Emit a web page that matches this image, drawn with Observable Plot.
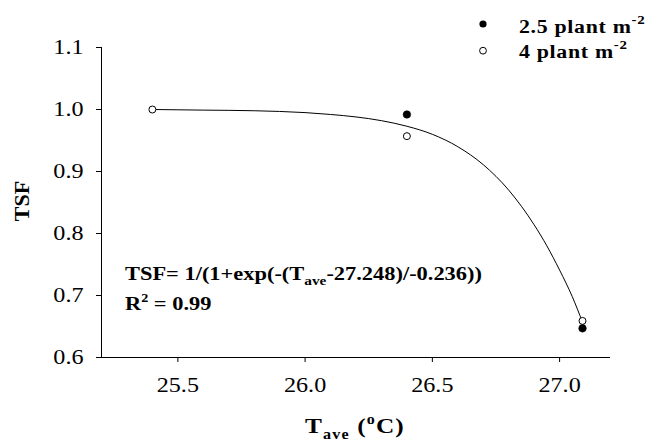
<!DOCTYPE html>
<html><head><meta charset="utf-8">
<script src="https://cdn.jsdelivr.net/npm/d3@7"></script>
<script src="https://cdn.jsdelivr.net/npm/@observablehq/plot@0.6"></script>
<style>html,body{margin:0;padding:0;background:#fff;} svg{display:block}</style>
</head><body><div id="chart"></div>
<script>
// ---- data ----
const xTicks = [25.5, 26.0, 26.5, 27.0];
const yTicks = [0.6, 0.7, 0.8, 0.9, 1.0, 1.1];
const seriesNames = ["2.5 plant m", "4 plant m"];
const tempA = [26.4, 27.09];          // 2.5 plant m-2 (filled)
const tsfA  = [0.992, 0.647];
const tempB = [25.4, 26.4, 27.09];    // 4 plant m-2 (open)
const tsfB  = [1.000, 0.957, 0.659];
// fitted curve, points
const curveT   = [25.4, 25.6, 25.8, 26.0, 26.1, 26.2, 26.3, 26.4, 26.5, 26.6, 26.7, 26.8, 26.9, 26.95, 27.0, 27.05, 27.09];
const curveTSF = [1.000, 0.999, 0.998, 0.995, 0.992, 0.988, 0.982, 0.973, 0.960, 0.940, 0.911, 0.870, 0.814, 0.780, 0.741, 0.698, 0.657];
const eqMain = "TSF= 1/(1+exp(-(T";
const eqSub = "ave";
const eqRest = "-27.248)/-0.236))";
const r2Text = " = 0.99";

const seriesA = tempA.map((t, i) => ({t, v: tsfA[i]}));
const seriesB = tempB.map((t, i) => ({t, v: tsfB[i]}));
const curve = curveT.map((t, i) => ({t, v: curveTSF[i]}));

const FONT = '"Liberation Serif", "Times New Roman", serif';
const SX = 1.15;

const svg = Plot.plot({
  width: 645, height: 441,
  marginLeft: 101, marginRight: 35, marginTop: 47, marginBottom: 84,
  style: {fontFamily: FONT, fontSize: "21px", color: "black", background: "white"},
  x: {domain: [25.2, 27.2], ticks: xTicks, tickFormat: d3.format(".1f"), tickSize: 5, tickPadding: 15, label: null},
  y: {domain: [0.6, 1.1], ticks: yTicks, tickFormat: d3.format(".1f"), tickSize: 5, tickPadding: 13, label: null},
  marks: [
    Plot.ruleX([25.2], {stroke: "black", strokeWidth: 1}),
    Plot.ruleY([0.6], {stroke: "black", strokeWidth: 1}),
    Plot.line(curve, {x: "t", y: "v", stroke: "black", strokeWidth: 1, curve: "monotone-x"}),
    Plot.dot(seriesB, {x: "t", y: "v", r: 3.5, fill: "white", stroke: "black", strokeWidth: 1}),
    Plot.dot(seriesA, {x: "t", y: "v", r: 3.8, fill: "black", stroke: "black", strokeWidth: 0.5})
  ]
});

// widen the tick labels slightly, like the reference's stretched lettering
d3.select(svg).selectAll("text").each(function() {
  const el = d3.select(this);
  const tr = el.attr("transform");
  if (tr) el.attr("transform", tr + ` scale(${SX},1)`);
  else {
    const x = +el.attr("x") || 0, y = +el.attr("y") || 0;
    el.attr("x", null).attr("y", null).attr("transform", `translate(${x},${y}) scale(${SX},1)`);
  }
});

const s = d3.select(svg);
function rich(x, y, parts, opts = {}) {
  const t = s.append("text")
    .attr("transform", opts.transform || `translate(${x},${y}) scale(${opts.sx || SX},1)`)
    .attr("font-family", FONT)
    .attr("font-weight", "bold")
    .attr("font-size", opts.size || 19)
    .attr("letter-spacing", opts.ls || 0)
    .attr("fill", "black")
    .attr("text-anchor", opts.anchor || "start");
  for (const p of parts) {
    const ts = t.append("tspan").text(p.t);
    if (p.size) ts.attr("font-size", p.size);
    if (p.dy) ts.attr("dy", p.dy);
  }
  return t;
}

// equation
rich(125, 280, [{t: eqMain}, {t: eqSub, size: 13, dy: 5}, {t: eqRest, size: 19, dy: -5}], {sx: 1.18});
rich(125, 310, [{t: "R"}, {t: "2", size: 12, dy: -8}, {t: r2Text, size: 19, dy: 8}], {sx: 1.18});

// legend
s.append("circle").attr("cx", 483).attr("cy", 24).attr("r", 3.6).attr("fill", "black");
s.append("circle").attr("cx", 483).attr("cy", 50.7).attr("r", 3.4).attr("fill", "white").attr("stroke", "black");
rich(519, 33, [{t: seriesNames[0]}, {t: "-2", size: 13, dy: -9}], {size: 19, ls: 0.6});
rich(519, 57.5, [{t: seriesNames[1]}, {t: "-2", size: 13, dy: -9}], {size: 19, ls: 0.6});

// axis titles
rich(305, 433, [{t: "T"}, {t: "ave", size: 14, dy: 6}, {t: " (", size: 22, dy: -6}, {t: "o", size: 14, dy: -9}, {t: "C)", size: 22, dy: 9}], {size: 22, ls: 1});
rich(0, 0, [{t: "TSF"}], {size: 22, anchor: "middle", transform: "translate(28.5,201) rotate(-90)"});

document.getElementById("chart").appendChild(svg);
</script>
</body></html>
